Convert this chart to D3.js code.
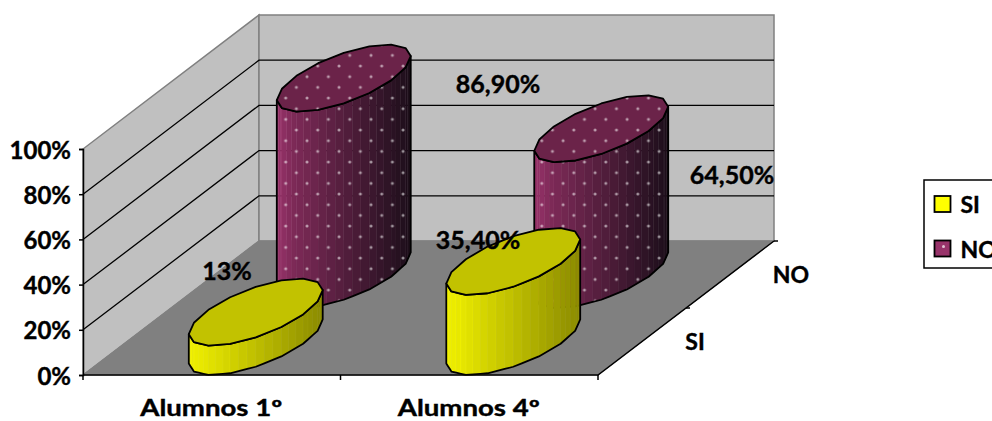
<!DOCTYPE html>
<html>
<head>
<meta charset="utf-8">
<script src="https://cdn.jsdelivr.net/npm/d3@7"></script>
<style>
body { margin: 0; background: #fff; }
svg { display: block; }
text { font-family: Lato, "Open Sans", sans-serif; font-weight: 700; fill: #000; stroke: #000; stroke-width: 0.4px; }
</style>
</head>
<body>
<svg></svg>
<script>
// data
var categories = ['Alumnos 1º', 'Alumnos 4º'];
var seriesNames = ['SI', 'NO'];
var siValues = [0.13, 0.354];
var noValues = [0.869, 0.645];
var siLabels = ['13%', '35,40%'];
var noLabels = ['86,90%', '64,50%'];
var yTicks = [0, 0.2, 0.4, 0.6, 0.8, 1];

var svgWidth = 992, svgHeight = 421;
var svg = d3.select('svg').attr('width', svgWidth).attr('height', svgHeight);

// projection of the 3d box
var originX = 83, originY = 375;
var boxWidth = 515, boxHeight = 226, depthX = 176, depthY = 134;

var xScale = d3.scaleLinear().domain([0, categories.length]).range([0, boxWidth]);
var zScale = d3.scaleLinear().domain([0, seriesNames.length]).range([0, 1]);
var yScale = d3.scaleLinear().domain([0, 1]).range([0, boxHeight]);

function project(x, z, v) {
  var d = zScale(z);
  return [originX + xScale(x) + d * depthX, originY - d * depthY - yScale(v)];
}
function poly(points) { return 'M' + points.map(function(p) { return p.join(','); }).join('L') + 'Z'; }

var defs = svg.append('defs');
var pattern = defs.append('pattern').attr('id', 'dots')
  .attr('patternUnits', 'userSpaceOnUse')
  .attr('width', 21.34).attr('height', 21.34)
  .attr('x', 285.7).attr('y', 140.7);
[[0, 0], [10.67, 10.67], [21.34, 0], [0, 21.34], [21.34, 21.34]].forEach(function(d) {
  pattern.append('circle').attr('cx', d[0]).attr('cy', d[1]).attr('r', 1.5).attr('fill', '#fff').attr('opacity', 0.55);
});

// walls and floor
var nX = categories.length, nZ = seriesNames.length;
svg.append('path').attr('d', poly([project(0, 0, 0), project(0, nZ, 0), project(0, nZ, 1), project(0, 0, 1)]))
  .attr('fill', '#c0c0c0').attr('stroke', '#808080').attr('stroke-width', 1.5);
svg.append('path').attr('d', poly([project(0, nZ, 0), project(nX, nZ, 0), project(nX, nZ, 1), project(0, nZ, 1)]))
  .attr('fill', '#c0c0c0').attr('stroke', '#808080').attr('stroke-width', 1.5);
svg.append('path').attr('d', poly([project(0, 0, 0), project(nX, 0, 0), project(nX, nZ, 0), project(0, nZ, 0)]))
  .attr('fill', '#808080').attr('stroke', '#808080').attr('stroke-width', 1);

// gridlines
var grid = yTicks.filter(function(t) { return t > 0 && t < 1; });
svg.selectAll('.grid').data(grid).enter().append('path').attr('class', 'grid')
  .attr('fill', 'none').attr('stroke', '#000').attr('stroke-width', 1.3)
  .attr('d', function(t) {
    var a = project(0, 0, t), b = project(0, nZ, t), c = project(nX, nZ, t);
    return 'M' + a + 'L' + b + 'L' + c;
  });

// y axis
var yAxisScale = d3.scaleLinear().domain([0, 1]).range([originY, originY - boxHeight]);
var yAxis = svg.append('g').attr('transform', 'translate(' + originX + ',0)')
  .call(d3.axisLeft(yAxisScale).tickValues(yTicks).tickSize(4).tickPadding(8).tickFormat(d3.format('.0%')));
yAxis.selectAll('path,line').attr('stroke', '#000').attr('stroke-width', 1.5);
yAxis.selectAll('text').style('font-size', '24px').attr('dy', '0.38em');

// x axis
var bottom = svg.append('g').attr('stroke', '#000').attr('stroke-width', 1.5);
bottom.append('path').attr('d', 'M' + project(0, 0, 0) + 'L' + project(nX, 0, 0) + 'L' + project(nX, nZ, 0)).attr('fill', 'none');
d3.range(nX + 1).forEach(function(i) {
  var p = project(i, 0, 0);
  bottom.append('line').attr('x1', p[0]).attr('x2', p[0]).attr('y1', p[1]).attr('y2', p[1] + 5);
});
d3.range(1, nZ + 1).forEach(function(j) {
  var p = project(nX, j, 0);
  bottom.append('line').attr('x1', p[0]).attr('x2', p[0] + 4).attr('y1', p[1]).attr('y2', p[1]);
});

// cylinders
var radiusX = 0.196, radiusZ = 0.5, corners = 16, split = 3;
function ring(i, j, v) {
  var A = xScale(radiusX), B = zScale(radiusZ) * depthX, start = Math.atan2(B, A), pts = [];
  d3.range(corners).forEach(function(k) {
    var t = start + k * 2 * Math.PI / corners;
    pts.push(project(i + 0.5 + radiusX * Math.cos(t), j + 0.5 + radiusZ * Math.sin(t), v));
  });
  return pts;
}
function drawBar(i, j, v, col) {
  var g = svg.append('g');
  var top = ring(i, j, v), base = ring(i, j, 0), half = corners / 2;
  // side strips, front half going from left silhouette to right one
  var stripTop = [], stripBase = [];
  d3.range(half, corners).forEach(function(k) {
    var n = (k + 1) % corners;
    d3.range(split).forEach(function(s) {
      var f = s / split;
      stripTop.push([top[k][0] + (top[n][0] - top[k][0]) * f, top[k][1] + (top[n][1] - top[k][1]) * f]);
      stripBase.push([base[k][0] + (base[n][0] - base[k][0]) * f, base[k][1] + (base[n][1] - base[k][1]) * f]);
    });
  });
  stripTop.push(top[0]); stripBase.push(base[0]);
  var shade = d3.scaleLinear().domain([top[half][0], top[half][0] + 0.12 * (top[0][0] - top[half][0]), top[0][0]])
    .range(col.side).interpolate(d3.interpolateRgb);
  d3.range(stripTop.length - 1).forEach(function(k) {
    var c = shade((stripTop[k][0] + stripTop[k + 1][0]) / 2);
    g.append('path').attr('d', poly([stripTop[k], stripTop[k + 1], stripBase[k + 1], stripBase[k]]))
      .attr('fill', c).attr('stroke', d3.rgb(c).brighter(0.25)).attr('stroke-width', 0.4);
  });
  var silhouette = stripTop.concat(stripBase.slice().reverse());
  if (col.dots) g.append('path').attr('d', poly(silhouette)).attr('fill', 'url(#dots)');
  g.append('path').attr('d', poly(silhouette)).attr('fill', 'none')
    .attr('stroke', '#000').attr('stroke-width', 1.8).attr('stroke-linejoin', 'round');
  // cap
  g.append('path').attr('d', poly(top)).attr('fill', col.top);
  if (col.dots) g.append('path').attr('d', poly(top)).attr('fill', 'url(#dots)');
  g.append('path').attr('d', poly(top)).attr('fill', 'none')
    .attr('stroke', '#000').attr('stroke-width', 1.8).attr('stroke-linejoin', 'round');
}
var siStyle = { top: '#c2c200', side: ['#f0f000', '#e6e600', '#8a8a00'], dots: false };
var noStyle = { top: '#6b2349', side: ['#98336a', '#7e2a58', '#1c0e1a'], dots: true };

noValues.forEach(function(v, i) { drawBar(i, 1, v, noStyle); });
siValues.forEach(function(v, i) { drawBar(i, 0, v, siStyle); });

// labels
var labelSpots = [[227, 271], [478, 240], [498, 84], [732, 175]];
siLabels.concat(noLabels).forEach(function(t, i) {
  svg.append('text').text(t).attr('x', labelSpots[i][0]).attr('y', labelSpots[i][1])
    .attr('dy', '0.36em').attr('text-anchor', 'middle').style('font-size', '25px');
});
categories.forEach(function(c, i) {
  svg.append('text').text(c).attr('x', originX + xScale(i + 0.5) - 0.5).attr('y', 416)
    .attr('text-anchor', 'middle').style('font-size', '22px')
    .attr('textLength', 142).attr('lengthAdjust', 'spacingAndGlyphs');
});
var seriesSpots = [[695, 342], [791, 275]];
seriesNames.forEach(function(s, j) {
  svg.append('text').text(s).attr('x', seriesSpots[j][0]).attr('y', seriesSpots[j][1])
    .attr('dy', '0.36em').attr('text-anchor', 'middle').style('font-size', '23px');
});

// legend (runs off the right edge like the original)
svg.append('rect').attr('x', 924).attr('y', 180).attr('width', 100).attr('height', 88)
  .attr('fill', '#fff').attr('stroke', '#000').attr('stroke-width', 1.5);
var swatchFill = ['#ffff00', '#98336a'];
seriesNames.forEach(function(s, j) {
  var y = 196 + j * 44.5;
  svg.append('rect').attr('x', 934.5).attr('y', y).attr('width', 16).attr('height', 16)
    .attr('fill', swatchFill[j]).attr('stroke', '#000').attr('stroke-width', 1.8);
  if (j == 1) svg.append('circle').attr('cx', 943.5).attr('cy', y + 6).attr('r', 1.5).attr('fill', '#fff').attr('opacity', 0.7);
  svg.append('text').text(s).attr('x', 960.5).attr('y', y + 9).attr('dy', '0.36em').style('font-size', '23px');
});
</script>
</body>
</html>
